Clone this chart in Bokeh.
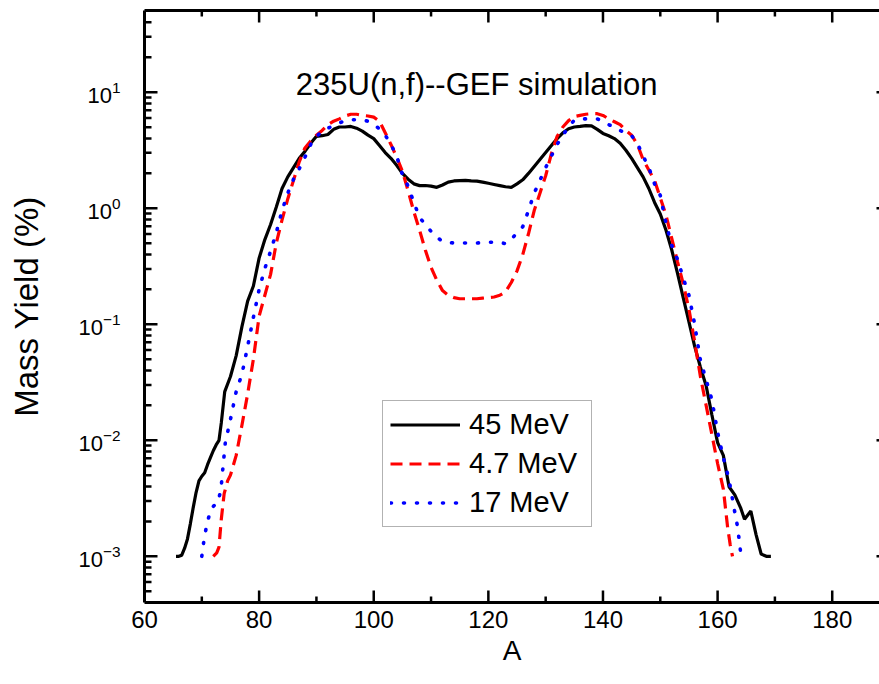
import numpy as np
from bokeh.plotting import figure
from bokeh.models import (LinearAxis, Legend, LegendItem, Label, FixedTicker,
                          SingleIntervalTicker, CustomJSTickFormatter, Range1d)
from bokeh.embed import file_html
from bokeh.resources import INLINE

# ---------------- data (mass number A, log10 of mass yield in %) ----------------
A_45 = [65.5, 66, 66.5, 67, 67.5, 68, 68.5, 69, 69.5, 70, 70.5, 71, 71.5, 72, 72.5, 73, 73.4,
        74, 75, 76, 77, 78, 79, 80, 81, 82, 83, 84, 85, 86, 87, 88, 89, 90, 91, 92, 93, 94, 95,
        96, 97, 98, 99, 100, 101, 102, 103, 104, 105, 106, 107, 108, 109, 110, 111, 112, 113,
        114, 115, 116, 117, 118, 119, 120, 121, 122, 123, 124, 125, 126, 127, 128, 129, 130,
        131, 132, 133, 134, 135, 136, 137, 138, 139, 140, 141, 142, 143, 144, 145, 146, 147,
        148, 149, 150, 151, 152, 153, 154, 155, 156, 157, 158, 159, 160, 161, 162, 163, 164,
        164.7, 165.8, 166.7, 167.6, 168.5, 169.3]
LOGY_45 = [-3.0, -3.0, -2.99, -2.93, -2.85, -2.72, -2.58, -2.45, -2.35, -2.31, -2.28, -2.21,
           -2.15, -2.09, -2.04, -2.0, -1.85,
           -1.58, -1.45, -1.27, -1.02, -0.80, -0.67, -0.43, -0.27, -0.14, 0.01, 0.17, 0.27,
           0.35, 0.43, 0.49, 0.56, 0.62, 0.625, 0.635, 0.68, 0.70, 0.70,
           0.705, 0.69, 0.665, 0.63, 0.60, 0.54, 0.48, 0.43, 0.37, 0.30, 0.25, 0.21, 0.195,
           0.196, 0.19, 0.18, 0.20, 0.225,
           0.235, 0.238, 0.24, 0.236, 0.233, 0.225, 0.215, 0.205, 0.195, 0.185, 0.18, 0.21,
           0.245, 0.30, 0.36, 0.42, 0.48,
           0.54, 0.60, 0.65, 0.685, 0.70, 0.705, 0.712, 0.71, 0.68, 0.645, 0.625, 0.60, 0.56,
           0.50, 0.43, 0.35, 0.27,
           0.17, 0.05, -0.05, -0.19, -0.36, -0.56, -0.77, -0.98, -1.19, -1.37, -1.53, -1.78,
           -2.02, -2.13, -2.40, -2.47, -2.58,
           -2.68, -2.61, -2.81, -2.98, -3.0, -3.0]

A_47 = [72.0, 72.6, 73.0, 73.4, 73.9, 74.5, 75, 76, 77, 78, 79, 80, 81, 82, 83, 84, 85, 86, 87,
        88, 89, 90, 91, 92, 93, 94, 95, 96, 97, 98, 99, 100, 101, 102, 103, 104, 105, 106, 107,
        108, 109, 110, 111, 112, 113, 114, 115, 116, 117, 118, 119, 120, 121, 122, 123, 124,
        125, 126, 127, 128, 129, 130, 131, 132, 133, 134, 135, 136, 137, 138, 139, 140, 141,
        142, 143, 144, 145, 146, 147, 148, 149, 150, 151, 152, 153, 154, 155, 156, 157, 158,
        159, 160, 161, 161.75, 162.2, 162.6]
LOGY_47 = [-3.0, -2.97, -2.92, -2.68, -2.46, -2.35, -2.30, -2.13, -1.87, -1.60, -1.30, -0.93,
           -0.75, -0.57, -0.30, -0.10, 0.08, 0.24, 0.40,
           0.52, 0.58, 0.63, 0.67, 0.72, 0.75, 0.77, 0.795, 0.81, 0.81, 0.80, 0.795, 0.785,
           0.75, 0.65, 0.55, 0.44, 0.32, 0.15, -0.03,
           -0.19, -0.36, -0.51, -0.62, -0.71, -0.75, -0.77, -0.78, -0.78, -0.78, -0.78, -0.775,
           -0.77, -0.765, -0.75, -0.72, -0.64,
           -0.54, -0.40, -0.22, -0.02, 0.13, 0.28, 0.47, 0.62, 0.70, 0.755, 0.79, 0.80, 0.81,
           0.815, 0.815, 0.80, 0.77,
           0.745, 0.72, 0.67, 0.63, 0.55, 0.42, 0.33, 0.24, 0.09, -0.06, -0.26, -0.46, -0.65,
           -0.87, -1.15, -1.45, -1.70,
           -1.95, -2.2, -2.42, -2.75, -2.9, -3.0]

A_17 = [70.0, 70.4, 70.9, 71.6, 72.2, 72.8, 73.35, 73.6, 74.1, 75, 76, 77, 78, 79, 80, 81, 82,
        83, 84, 85, 86, 87, 88, 89, 90, 91, 92, 93, 94, 95, 96, 97, 98, 99, 100, 101, 102, 103,
        104, 105, 106, 107, 108, 109, 110, 111, 112, 113, 114, 115, 116, 117, 118, 119, 120,
        121, 122, 123, 124, 125, 126, 127, 128, 129, 130, 131, 132, 133, 134, 135, 136, 137,
        138, 139, 140, 141, 142, 143, 144, 145, 146, 147, 148, 149, 150, 151, 152, 153, 154,
        155, 156, 157, 158, 159, 160, 161, 162, 163, 163.5, 164.1]
LOGY_17 = [-3.0, -2.85, -2.72, -2.59, -2.56, -2.54, -2.42, -2.28, -2.02, -1.82, -1.58, -1.43,
           -1.19, -0.94, -0.70, -0.52, -0.37,
           -0.21, -0.02, 0.13, 0.25, 0.34, 0.44, 0.55, 0.62, 0.66, 0.69, 0.71, 0.735, 0.755,
           0.762, 0.762, 0.76, 0.75, 0.72, 0.685, 0.63, 0.55,
           0.45, 0.29, 0.19, 0.05, -0.08, -0.14, -0.20, -0.25, -0.285, -0.295, -0.30, -0.30,
           -0.30, -0.30, -0.30, -0.295, -0.293,
           -0.293, -0.295, -0.305, -0.27, -0.21, -0.16, -0.02, 0.13, 0.24, 0.35, 0.45, 0.55,
           0.63, 0.70, 0.76, 0.77, 0.77,
           0.77, 0.77, 0.75, 0.72, 0.70, 0.67, 0.645, 0.625, 0.56, 0.45, 0.35, 0.21, 0.11,
           -0.13, -0.32, -0.44, -0.60,
           -0.75, -1.0, -1.31, -1.48, -1.65, -1.93, -2.15, -2.34, -2.62, -2.75, -3.0]

LABELS = ["45 MeV", "4.7 MeV", "17 MeV"]
TITLE = "235U(n,f)--GEF simulation"
X_LABEL = "A"
Y_LABEL = "Mass Yield (%)"
X_MAJOR = [60, 80, 100, 120, 140, 160, 180]
X_MINOR = [70, 90, 110, 130, 150, 170]
Y_MAJOR = [1e-3, 1e-2, 1e-1, 1e0, 1e1]
Y_MINOR = [k * 10.0 ** n for n in range(-4, 2) for k in range(2, 10)
           if 4e-4 < k * 10.0 ** n < 50]

X_START, X_END = 60, 188.25
Y_START, Y_END = 4e-4, 50.6
FONT = "Liberation Sans"

p = figure(width=879, height=684, output_backend="svg", toolbar_location=None,
           y_axis_type="log",
           x_range=Range1d(X_START, X_END), y_range=Range1d(Y_START, Y_END),
           min_border_left=144, min_border_right=0, min_border_top=10,
           min_border_bottom=82)
p.xgrid.visible = False
p.ygrid.visible = False
p.outline_line_color = None
p.background_fill_color = "white"
p.border_fill_color = "white"

yticker = FixedTicker(ticks=Y_MAJOR, minor_ticks=Y_MINOR)
xticker = FixedTicker(ticks=X_MAJOR, minor_ticks=X_MINOR)

def style_axis(ax):
    ax.axis_line_width = 3
    ax.axis_line_color = "black"
    ax.major_tick_in = 0
    ax.major_tick_out = 0
    ax.minor_tick_in = 0
    ax.minor_tick_out = 0
    ax.major_tick_line_color = None
    ax.minor_tick_line_color = None
    ax.major_label_text_font = FONT
    ax.major_label_text_color = "black"
    ax.axis_label_text_font = FONT
    ax.axis_label_text_font_style = "normal"
    ax.axis_label_text_color = "black"

xb = p.below[0]
xb.ticker = xticker
style_axis(xb)
xb.major_label_text_font_size = "24px"
xb.major_label_standoff = 8
xb.axis_label = X_LABEL
xb.axis_label_text_font_size = "28px"
xb.axis_label_standoff = 4

yl = p.left[0]
yl.ticker = yticker
style_axis(yl)
yl.major_label_text_font_size = "22px"
yl.major_label_standoff = 24
yl.axis_label = Y_LABEL
yl.axis_label_text_font_size = "33px"
yl.axis_label_standoff = 30

top = LinearAxis(ticker=xticker,
                 formatter=CustomJSTickFormatter(code="return ''"))
style_axis(top)
top.major_label_text_font_size = "0px"
top.major_label_standoff = 0
p.add_layout(top, "above")

# inward tick marks, drawn from the tick lists
TW = 2.5
p.ray(x=X_MAJOR, y=[Y_START] * len(X_MAJOR), length=12, length_units="screen",
      angle=np.pi / 2, line_color="black", line_width=TW)
p.ray(x=X_MINOR, y=[Y_START] * len(X_MINOR), length=6, length_units="screen",
      angle=np.pi / 2, line_color="black", line_width=TW)
p.ray(x=X_MAJOR, y=[Y_END] * len(X_MAJOR), length=12, length_units="screen",
      angle=-np.pi / 2, line_color="black", line_width=TW)
p.ray(x=X_MINOR, y=[Y_END] * len(X_MINOR), length=6, length_units="screen",
      angle=-np.pi / 2, line_color="black", line_width=TW)
p.ray(x=[X_START] * len(Y_MAJOR), y=Y_MAJOR, length=13, length_units="screen",
      angle=0, line_color="black", line_width=TW)
p.ray(x=[X_START] * len(Y_MINOR), y=Y_MINOR, length=7, length_units="screen",
      angle=0, line_color="black", line_width=TW)
p.ray(x=[X_END] * len(Y_MAJOR), y=Y_MAJOR, length=3, length_units="screen",
      angle=np.pi, line_color="black", line_width=TW)

x45 = np.array(A_45); y45 = 10.0 ** np.array(LOGY_45)
x47 = np.array(A_47); y47 = 10.0 ** np.array(LOGY_47)
x17 = np.array(A_17); y17 = 10.0 ** np.array(LOGY_17)

r1 = p.line(x45, y45, line_color="black", line_width=3.2)
r2 = p.line(x47, y47, line_color="#ff0000", line_width=3.2, line_dash="12 7")
r3 = p.line(x17, y17, line_color="#0000ff", line_width=3.6, line_dash="1 12",
            line_cap="round")

legend = Legend(items=[LegendItem(label=LABELS[0], renderers=[r1]),
                       LegendItem(label=LABELS[1], renderers=[r2]),
                       LegendItem(label=LABELS[2], renderers=[r3])],
                location=(238, 75))
legend.label_text_font = FONT
legend.label_text_font_size = "29px"
legend.label_text_color = "black"
legend.glyph_width = 70
legend.glyph_height = 31
legend.label_height = 31
legend.label_width = 115
legend.label_standoff = 9
legend.spacing = 6
legend.padding = 7
legend.margin = 0
legend.border_line_color = "#666666"
legend.border_line_width = 1.5
legend.background_fill_alpha = 1
p.add_layout(legend)

title = Label(x=86.4, y=11.6, text=TITLE, text_font=FONT, text_font_size="31px",
              text_baseline="alphabetic", text_color="black")
p.add_layout(title)

open("out.html", "w").write(file_html(p, INLINE))
